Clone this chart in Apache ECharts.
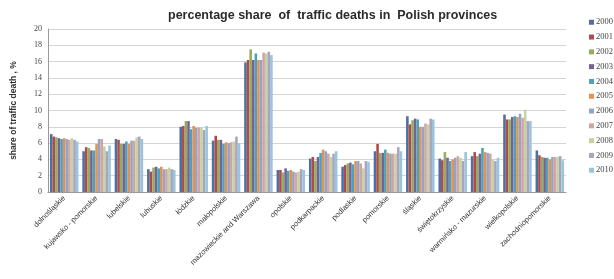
<!DOCTYPE html>
<html><head><meta charset="utf-8">
<script src="https://cdn.jsdelivr.net/npm/echarts@6/dist/echarts.min.js"></script>
<style>html,body{margin:0;padding:0;background:#fff}#c{width:614px;height:279px}</style>
</head><body><div id="c"></div>
<script>
const provinces = ["dolnośląskie","kujawsko - pomorskie","lubelskie","lubuskie","łódzkie","małopolskie","mazowieckie and Warszawa","opolskie","podkarpackie","podlaskie","pomorskie","śląskie","świętokrzyskie","warmińsko - mazurskie","wielkopolskie","zachodniopomorskie"];
const years = ["2000","2001","2002","2003","2004","2005","2006","2007","2008","2009","2010"];
const yTicks = [0,2,4,6,8,10,12,14,16,18,20];
// values per year, one entry per province (same order as provinces)
const y2000 = [7.1,5.0,6.5,2.8,8.0,6.3,15.9,2.7,4.1,3.1,5.0,9.3,4.1,4.4,9.5,5.1];
const y2001 = [6.8,5.5,6.4,2.5,8.1,6.9,16.2,2.7,4.3,3.3,5.9,8.3,3.9,4.9,8.9,4.5];
const y2002 = [6.7,5.4,5.9,3.0,8.7,6.4,17.5,2.4,3.8,3.5,4.8,8.8,4.9,4.4,8.9,4.3];
const y2003 = [6.6,5.1,5.9,3.1,8.7,6.4,16.2,2.9,4.3,3.6,4.8,9.0,4.2,4.7,9.2,4.2];
const y2004 = [6.5,5.1,6.2,2.9,7.7,5.9,17.0,2.6,4.8,3.4,5.2,8.9,3.8,5.4,9.3,4.2];
const y2005 = [6.6,5.9,5.9,3.1,8.1,6.1,16.2,2.7,5.2,3.8,4.8,8.0,4.0,4.9,9.2,4.0];
const y2006 = [6.5,6.5,6.3,2.8,7.9,6.0,16.2,2.5,5.0,3.8,4.7,8.0,4.2,4.8,9.6,4.3];
const y2007 = [6.4,6.5,6.3,2.8,7.9,6.1,17.1,2.4,4.7,3.5,4.7,8.4,4.4,4.7,9.1,4.3];
const y2008 = [6.6,5.6,6.7,3.0,7.9,6.2,17.0,2.5,4.3,2.9,4.7,8.3,4.2,4.0,10.1,4.3];
const y2009 = [6.4,5.0,6.8,2.8,7.6,6.8,17.2,2.8,4.7,3.8,5.5,9.0,3.8,3.8,8.7,4.4];
const y2010 = [6.2,5.7,6.5,2.7,8.1,6.0,16.8,2.7,5.0,3.7,5.0,8.9,4.9,4.2,8.7,3.9];
const seriesValues = [y2000,y2001,y2002,y2003,y2004,y2005,y2006,y2007,y2008,y2009,y2010];
const colors = ["#4f6fa3","#b14a48","#94ad5a","#77619a","#4aa3bb","#e6914f","#8ea6cc","#d4a3a2","#c4d3a0","#a9a3c0","#98c4dc"];

const chart = echarts.init(document.getElementById('c'), null, {renderer:'canvas'});
chart.setOption({
  animation:false,
  color: colors,
  title:{text:"percentage share  of  traffic deaths in  Polish provinces", left:163, top:4,
    textStyle:{fontFamily:"Liberation Sans", fontSize:12.5, fontWeight:"bold", color:"#2b2b2b"}},
  legend:{orient:'vertical', left:584, top:12, itemWidth:5, itemHeight:5, itemGap:4.3,
    icon:'rect', textStyle:{fontFamily:"Liberation Serif", fontSize:8.5, color:"#444", padding:[0,0,0,-3], lineHeight:10.5},
    data: years},
  grid:{left:48, right:48, top:29, bottom:87, containLabel:false},
  xAxis:{type:'category', data:provinces,
    axisLine:{lineStyle:{color:'#999'}}, axisTick:{show:false},
    axisLabel:{rotate:45, interval:0, fontFamily:"Liberation Sans", fontSize:7.5, color:'#333', margin:5}},
  yAxis:{type:'value', min:0, max:20, interval:2,
    name:"share of traffic death , %", nameLocation:'middle', nameGap:30, nameRotate:90,
    nameTextStyle:{fontFamily:"Liberation Sans", fontSize:8.5, fontWeight:'bold', color:'#333'},
    axisLine:{show:true, lineStyle:{color:'#999'}}, axisTick:{show:false},
    splitLine:{lineStyle:{color:'#d4d4d4', width:1.2}},
    axisLabel:{fontFamily:"Liberation Serif", fontSize:8, color:'#444', margin:6,
      formatter: v => yTicks.includes(v) ? String(v) : ''}},
  series: years.map((y,i)=>({name:y, type:'bar', data:seriesValues[i], barGap:'0%', barCategoryGap:'12%'}))
});
</script></body></html>
